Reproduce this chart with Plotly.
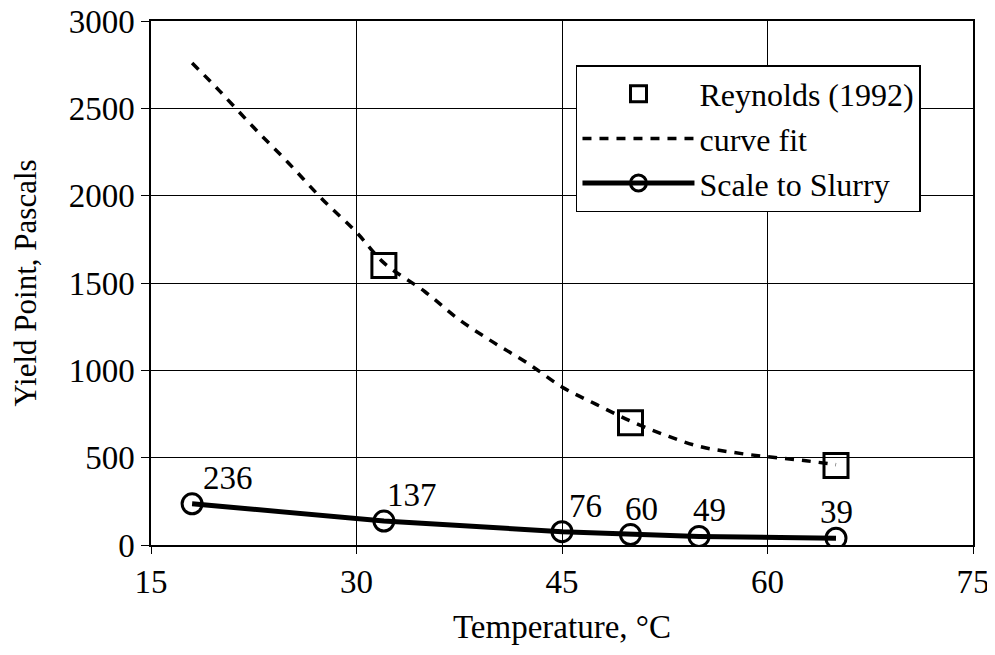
import plotly.graph_objects as go

# Data
rey_t = [32, 50, 65]
rey_y = [1600, 700, 455]

curve_t = [18, 20, 22.5, 25, 27.5, 30, 32, 35, 37.5, 40, 42.5, 45, 47.5, 50, 52.5, 55, 57.5, 60, 62.5, 65]
curve_y = [2760, 2600, 2390, 2190, 1980, 1790, 1615, 1450, 1290, 1160, 1040, 905, 805, 710, 630, 565, 530, 505, 485, 460]

slurry_t = [18, 32, 45, 50, 55, 65]
slurry_y = [236, 137, 76, 60, 49, 39]
slurry_labels = [str(v) for v in slurry_y]

x_ticks = [15, 30, 45, 60, 75]
y_ticks = [0, 500, 1000, 1500, 2000, 2500, 3000]

# label placement (style only)
label_xshift = [36, 28, 23, 11, 10, 0]

FONT = "Liberation Serif, Times New Roman, serif"

fig = go.Figure()
fig.add_trace(go.Scatter(
    x=rey_t, y=rey_y, mode="markers", name="Reynolds (1992)",
    marker=dict(symbol="square-open", size=24, color="black", line=dict(width=3, color="black")),
))
fig.add_trace(go.Scatter(
    x=curve_t, y=curve_y, mode="lines", name="curve fit",
    line=dict(color="black", width=3.5, dash="9px,8px", shape="spline"),
))
fig.add_trace(go.Scatter(
    x=slurry_t, y=slurry_y, mode="lines+markers", name="Scale to Slurry",
    line=dict(color="black", width=5),
    marker=dict(symbol="circle-open", size=20, color="black", line=dict(width=3, color="black")),
))

for t, v, lab, dx in zip(slurry_t, slurry_y, slurry_labels, label_xshift):
    fig.add_annotation(
        x=t, y=v, text=lab, showarrow=False,
        xanchor="center", yanchor="middle", xshift=dx, yshift=26,
        font=dict(family=FONT, size=33, color="black"),
    )

fig.update_layout(
    width=987, height=647,
    margin=dict(l=143, r=22, t=13, b=110, autoexpand=False),
    paper_bgcolor="white", plot_bgcolor="white",
    font=dict(family=FONT, size=33, color="black"),
    showlegend=True,
    legend=dict(
        x=0.517, y=0.916, xanchor="left", yanchor="top",
        bgcolor="white", bordercolor="black", borderwidth=1.5,
        font=dict(family=FONT, size=32, color="black"),
        itemwidth=112, tracegroupgap=0,
    ),
)
fig.update_xaxes(
    range=[15, 75], tickvals=x_ticks, ticktext=[str(v) for v in x_ticks],
    showgrid=True, gridcolor="black", gridwidth=1,
    showline=True, linecolor="black", linewidth=1.5, mirror=True,
    ticks="outside", ticklen=7, tickcolor="black",
    zeroline=False, automargin=False, ticklabeloverflow="allow",
    tickfont=dict(family=FONT, size=33),
    title=dict(text="Temperature, °C", font=dict(family=FONT, size=33), standoff=16),
)
fig.update_yaxes(
    range=[0, 3000], tickvals=y_ticks, ticktext=[str(v) for v in y_ticks],
    showgrid=True, gridcolor="black", gridwidth=1,
    showline=True, linecolor="black", linewidth=1.5, mirror=True,
    ticks="outside", ticklen=8, tickcolor="black",
    zeroline=False, automargin=False, ticklabeloverflow="allow",
    tickfont=dict(family=FONT, size=33),
    title=dict(text="Yield Point, Pascals", font=dict(family=FONT, size=31), standoff=34),
)

fig.write_html("out.html")
